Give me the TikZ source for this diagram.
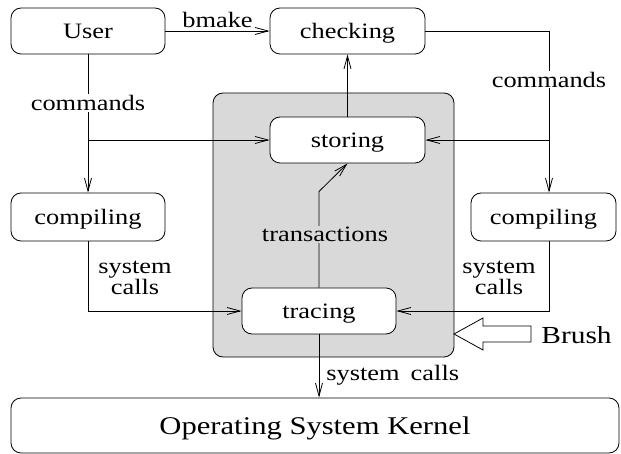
\documentclass[tikz,border=0pt]{standalone}
\usepackage{fontspec}
\setmainfont[FakeStretch=1.2]{Liberation Serif}
\usetikzlibrary{arrows.meta}
\definecolor{brushgray}{HTML}{D9D9D9}
\begin{document}
\begin{tikzpicture}[x=1pt,y=-1pt,
  >={Straight Barb[length=13pt,width=7pt]},
  line width=0.8pt,
  txt/.style={font=\fontsize{22}{21}\selectfont},
  proc/.style={txt, draw, rounded corners=10pt, fill=white, inner sep=0pt, text height=14.5pt, text depth=0pt},
  lbl/.style={txt, inner sep=1pt, align=center},
]
\useasboundingbox (0,0) rectangle (621,454);
% brush area
\node[draw, fill=brushgray, rounded corners=10pt, minimum width=241pt, minimum height=264pt, inner sep=0pt] (brusharea) at (333.5,225) {};
% processes
\node[proc, minimum width=154pt, minimum height=46pt] (user) at (88,31) {User};
\node[proc, minimum width=155pt, minimum height=46pt] (checking) at (347.5,31) {checking};
\node[proc, minimum width=155pt, minimum height=46pt] (storing) at (347.5,140) {storing};
\node[proc, minimum width=154pt, minimum height=48pt] (compL) at (88,217) {compiling};
\node[proc, minimum width=145pt, minimum height=48pt] (compR) at (543.5,217) {compiling};
\node[proc, minimum width=154pt, minimum height=46pt] (tracing) at (319,311) {tracing};
\node[proc, minimum width=608pt, minimum height=55pt, font=\fontsize{25.5}{28}\selectfont, text height=17pt] (kernel) at (315,425.5) {Operating System Kernel};
% helper coordinates
\coordinate (brL) at (88,140);
\coordinate (rc) at (549,31);
\coordinate (brR) at (549,140);
\coordinate (tbend) at (319,191.5);
% connectors
\draw[->] (user.east) -- node[lbl, above=2pt] (bmake) {bmake} (checking.west);
\draw[->] (storing.north) -- (checking.south);
\draw[->] (user.south) -- node[lbl, fill=white, pos=0.35] (cmdL) {commands} (compL.north);
\draw[->] (brL) -- (storing.west);
\draw[->] (checking.east) -- (rc) -- node[lbl, fill=white, pos=0.3] (cmdR) {commands} (rc |- compR.north);
\draw[->] (brR) -- (storing.east);
\draw[->] (compL.south) |- (tracing.west);
\node[lbl] (scL) at (135,278) {system\\calls};
\draw[->] (compR.south -| rc) |- (tracing.east);
\node[lbl] (scR) at (499,278) {system\\calls};
\draw[->] (tracing.north) -- node[lbl, fill=brushgray, pos=0.55, xshift=6pt] (trans) {transactions} (tbend) -- (storing.south);
\draw[->] (tracing.south) -- (tracing.south |- kernel.north);
\node[lbl, anchor=west] (scK) at (325,375) {system\,\,\,calls};
% brush arrow
\draw[fill=white] (454,334) -- (483,318) -- (483,326) -- (531,326) -- (531,342) -- (483,342) -- (483,350) -- cycle;
\node[font=\fontsize{24.5}{28}\selectfont, anchor=west, inner sep=0pt] (brush) at (541,335) {Brush};
\end{tikzpicture}
\end{document}
